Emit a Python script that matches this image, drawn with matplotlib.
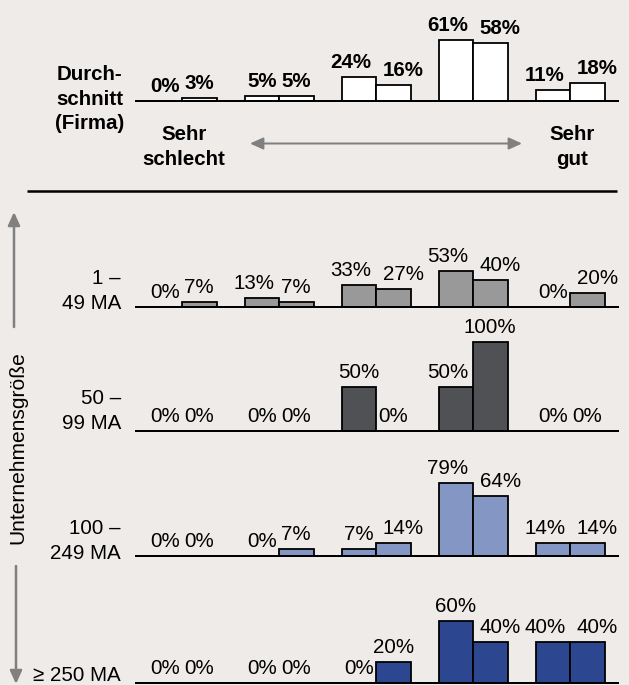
import matplotlib
matplotlib.use('Agg')
import matplotlib.pyplot as plt
from matplotlib.patches import FancyArrowPatch
import numpy as np

plt.rcParams['font.family'] = ['Liberation Sans', 'DejaVu Sans']

############### data ###############
avg_vals   = [0, 3, 5, 5, 24, 16, 61, 58, 11, 18]
ma_1_49    = [0, 7, 13, 7, 33, 27, 53, 40, 0, 20]
ma_50_99   = [0, 0, 0, 0, 50, 0, 50, 100, 0, 0]
ma_100_249 = [0, 0, 0, 7, 7, 14, 79, 64, 14, 14]
ma_250     = [0, 0, 0, 0, 0, 20, 60, 40, 40, 40]

avg_label = ['Durch-', 'schnitt', '(Firma)']
size_labels = [['1 –', '49 MA'], ['50 –', '99 MA'], ['100 –', '249 MA'], ['≥ 250 MA']]
end_labels = [['Sehr', 'schlecht'], ['Sehr', 'gut']]
axis_label = 'Unternehmensgröße'

############### layout (pixels, dpi 72 -> 1pt = 1px) ###############
W, H = 629, 685
BG = '#eeebe9'
X0, X1 = 136, 618          # baseline extent
G0, GSTEP = 182, 97        # first group centre, group spacing
BAR_PX = 34.5
FS = 20.5
AX_H = 110

# values, colour, baseline y, px per percent, row label baseline shift
panels = [
    (avg_vals,   'white',   101, 1.00, 0),
    (ma_1_49,    '#999999', 307, 0.68, 2),
    (ma_50_99,   '#505155', 431, 0.89, -2),
    (ma_100_249, '#8496c4', 556, 0.93, 3),
    (ma_250,     '#2c4690', 683, 1.03, -2),
]


def text_w(v):
    s = str(v)
    return (0.556 * len(s) + 0.889) * FS


def label_shifts(vals, s):
    # nudge labels apart where they would collide
    out = [0] * len(vals)
    for i in range(0, len(vals), 2):
        a, b = vals[i], vals[i + 1]
        ha_, hb = a * s, b * s
        wa, wb = text_w(a), text_w(b)
        if abs(ha_ - hb) < 15 and (wa + wb) / 2 + 3 > BAR_PX:
            if len(str(a)) >= 2:
                out[i] = -8
            if len(str(b)) >= 2:
                out[i + 1] = 10
        if ha_ + 9 < hb and wa > BAR_PX:
            out[i] = -8
        if hb + 9 < ha_ and wb > BAR_PX:
            out[i + 1] = 10
    return out


fig = plt.figure(figsize=(W / 72, H / 72), dpi=72, facecolor=BG)

ov = fig.add_axes([0, 0, 1, 1], zorder=0)
ov.set_xlim(0, W)
ov.set_ylim(H, 0)
ov.axis('off')

groups = np.arange(5)
w = BAR_PX / GSTEP
xs = np.ravel(np.column_stack([groups - w / 2, groups + w / 2]))

for k, (vals, col, yb, s, lab_dy) in enumerate(panels):
    ax = fig.add_axes([X0 / W, 1 - yb / H, (X1 - X0) / W, AX_H / H], zorder=1)
    ax.patch.set_alpha(0)
    ax.set_xlim((X0 - G0) / GSTEP, (X1 - G0) / GSTEP)
    ax.set_ylim(0, AX_H / s)
    ax.axis('off')
    ax.bar(xs, vals, width=w, color=col, edgecolor='black', linewidth=1.8,
           clip_on=False, zorder=3)
    ax.axhline(0, color='black', lw=2, zorder=4, clip_on=False)
    bold = 'bold' if k == 0 else 'normal'
    for x, v, dx in zip(xs, vals, label_shifts(vals, s)):
        ax.annotate(f'{v}%', (x, v), xytext=(dx, 9), textcoords='offset points',
                    ha='center', va='baseline', fontsize=FS, fontweight=bold,
                    annotation_clip=False)

    # row labels on the left
    if k == 0:
        for j, line in enumerate(avg_label):
            ov.text(89.5, 80 + 24.5 * j, line, ha='center', va='baseline',
                    fontsize=FS, fontweight='bold')
    else:
        lines = size_labels[k - 1]
        n = len(lines)
        for j, line in enumerate(lines):
            ov.text(121, yb + lab_dy - 25.5 * (n - 1 - j), line, ha='right',
                    va='baseline', fontsize=FS)

# scale end labels under the top panel
for g, lines in zip([0, 4], end_labels):
    for j, line in enumerate(lines):
        ov.text(G0 + GSTEP * g + 2, 140 + 25 * j, line, ha='center',
                va='baseline', fontsize=FS, fontweight='bold')

ov.add_patch(FancyArrowPatch((250, 143.5), (522, 143.5),
                             arrowstyle='<|-|>,head_length=11,head_width=5',
                             color='#808080', lw=2, shrinkA=0, shrinkB=0,
                             mutation_scale=1))

# separator rule
ov.plot([27, 617], [191, 191], color='black', lw=2.5, solid_capstyle='butt')

# company size axis
ov.add_patch(FancyArrowPatch((14, 327), (14, 212),
                             arrowstyle='-|>,head_length=11,head_width=5',
                             color='#808080', lw=2.5, shrinkA=0, shrinkB=0,
                             mutation_scale=1))
ov.add_patch(FancyArrowPatch((16, 566), (16, 684),
                             arrowstyle='-|>,head_length=11,head_width=5',
                             color='#808080', lw=2.5, shrinkA=0, shrinkB=0,
                             mutation_scale=1))
ov.text(18, 448, axis_label, rotation=90, ha='center', va='center', fontsize=21)

plt.savefig('out.png', dpi=72, facecolor=BG)
